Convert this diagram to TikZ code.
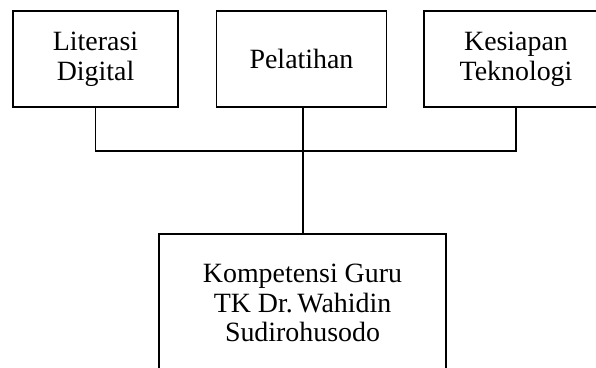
\documentclass[tikz,border=0pt]{standalone}
\usepackage{fontspec}
\setmainfont{Liberation Serif}
\usetikzlibrary{positioning}

\begin{document}
\begin{tikzpicture}[
        x=1bp, y=-1bp,
        factor/.style={rectangle, draw, line width=1.9bp, align=center, inner sep=0pt,
            minimum height=96bp, font=\fontsize{28}{30}\selectfont},
        result/.style={rectangle, draw, line width=1.9bp, align=center, inner sep=0pt,
            minimum width=287bp, minimum height=138bp, font=\fontsize{28}{30}\selectfont},
        link/.style={line width=1.9bp}
    ]

    % Frame
    \clip (0,0) rectangle (596,367);
    \fill[white] (0,0) rectangle (596,367);

    % Factors
    \node[factor, minimum width=165bp] (LD) at (95.5, 59) {Literasi\\Digital};
    \node[factor, minimum width=170bp] (PL) at (301.5, 59) {Pelatihan};
    \node[factor, minimum width=184bp] (KT) at (516, 59) {Kesiapan\\Teknologi};

    % Result
    \node[result] (KG) at (302.5, 303) {Kompetensi Guru\\TK Dr.\,Wahidin\\Sudirohusodo};

    % Connections
    \coordinate (bus) at (303, 151);
    \draw[link] (LD.south) |- (bus) -| (KT.south);
    \draw[link] (PL.south -| bus) -- (KG.north -| bus);

\end{tikzpicture}
\end{document}
